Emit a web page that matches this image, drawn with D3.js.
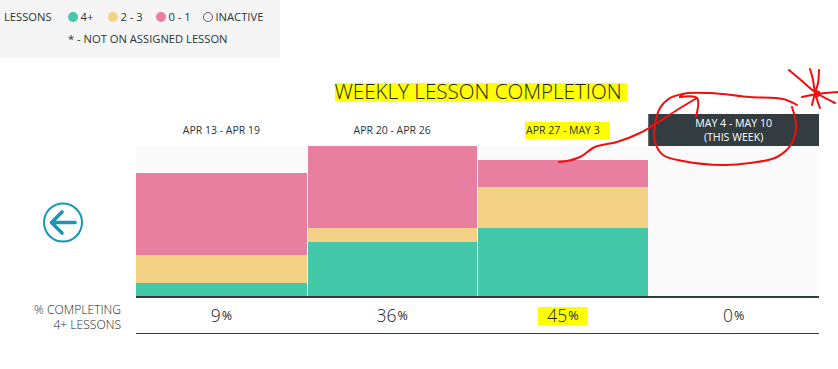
<!DOCTYPE html>
<html>
<head>
    <script src="https://cdnjs.cloudflare.com/ajax/libs/d3/7.8.5/d3.min.js"></script>
    <style>
        html, body { margin: 0; padding: 0; background: #fff; }
        svg { display: block; }
        text { font-family: "Open Sans", sans-serif; fill: #2b3438; }
    </style>
</head>
<body>
    <div id="chart"></div>
    <script>
        const width = 838, height = 369;

        const weeks = ["APR 13 - APR 19", "APR 20 - APR 26", "APR 27 - MAY 3", "MAY 4 - MAY 10"];
        const groups = ["fourPlus", "twoThree", "zeroOne"];
        const fourPlus = [13, 54, 68, 0];
        const twoThree = [28, 14, 41, 0];
        const zeroOne = [82, 82, 27, 0];
        const percents = [9, 36, 45, 0];
        const legendLabels = ["4+", "2 - 3", "0 - 1", "INACTIVE"];

        const colors = { fourPlus: "#43c8a9", twoThree: "#f4d285", zeroOne: "#e87ea0" };
        const dark = "#333c41";

        // hand drawn markup on the screenshot
        const arrowLine = [[559,162],[567,161],[580,157],[595,147],[617,142],[640,133],[657,123],[677,110],[697,98]];
        const arrowHead = [[680,97],[697,98],[696,117]];
        const loop = [[683,94],[670,98],[660,108],[655,125],[655,142],[663,155],[683,161],[723,165],[750,163],[777,157],[792,143],[796,125],[792,107]];
        const loopTop = [[680,97],[683,94],[710,93],[750,97],[783,99],[797,105]];
        const star = [
            [[789,70],[802,81],[815,92],[835,103]],
            [[810,69],[813,80],[815,93],[820,108]],
            [[819,70],[818,83],[815,93],[812,105]],
            [[802,97],[817,94],[838,92]],
            [[814,91],[819,92],[818,96],[814,96]]
        ];

        const svg = d3.select("#chart").append("svg").attr("width", width).attr("height", height);

        const x = d3.scaleBand().domain(weeks).range([136, 819]);
        const y = d3.scaleLinear().domain([0, 150]).range([296, 146]);

        // legend box
        svg.append("rect").attr("width", 280).attr("height", 58).attr("fill", "#f5f5f5");
        const legendText = (s, px, py) => svg.append("text").attr("x", px).attr("y", py)
            .attr("font-size", 11.2).text(s);
        legendText("LESSONS", 4, 21);
        legendText("* - NOT ON ASSIGNED LESSON", 68, 43);
        const legendDots = [73, 113, 161, 208];
        const legendFill = [colors.fourPlus, colors.twoThree, colors.zeroOne, "#fff"];
        legendLabels.forEach((l, i) => {
            svg.append("circle").attr("cx", legendDots[i]).attr("cy", 17).attr("r", i == 3 ? 4.5 : 5)
                .attr("fill", legendFill[i])
                .attr("stroke", i == 3 ? "#6b4a6b" : "none");
            legendText(l, legendDots[i] + 7.5, 21);
        });

        // title highlight then title
        svg.append("rect").attr("x", 335).attr("y", 83).attr("width", 292).attr("height", 18).attr("fill", "#ffff00");
        svg.append("text").attr("x", 478).attr("y", 98.5).attr("text-anchor", "middle")
            .attr("font-size", 20.6).attr("font-weight", 300).style("fill", "#1f2a1f").text("WEEKLY LESSON COMPLETION");

        // week backgrounds
        svg.append("rect").attr("x", 136).attr("y", 146).attr("width", 683).attr("height", 150).attr("fill", "#fafafa");

        // week headers
        svg.append("rect").attr("x", 525).attr("y", 122).attr("width", 85).attr("height", 17).attr("fill", "#ffff00");
        svg.append("rect").attr("x", x(weeks[3])).attr("y", 114).attr("width", x.bandwidth()).attr("height", 32).attr("fill", dark);
        weeks.forEach((w, i) => {
            const cx = x(w) + x.bandwidth() / 2;
            if (i < 3) {
                svg.append("text").attr("x", cx).attr("y", 134).attr("text-anchor", "middle")
                    .attr("font-size", 10.5).text(w);
            } else {
                svg.append("text").attr("x", cx).attr("y", 126.5).attr("text-anchor", "middle")
                    .attr("font-size", 10.6).attr("font-weight", 500).style("fill", "#fff").text(w);
                svg.append("text").attr("x", cx).attr("y", 141).attr("text-anchor", "middle")
                    .attr("font-size", 10.6).attr("font-weight", 500).style("fill", "#fff").text("(THIS WEEK)");
            }
        });

        // stacked bars, second column sits 1px inside its band to leave the white gaps
        const rows = weeks.map((w, i) => ({ week: w, fourPlus: fourPlus[i], twoThree: twoThree[i], zeroOne: zeroOne[i] }));
        const stack = d3.stack().keys(groups)(rows);
        const inset = d => d.data.week == weeks[1] ? 1 : 0;
        const left = d => Math.round(x(d.data.week)) + inset(d);
        const right = d => Math.round(x(d.data.week) + x.bandwidth()) - inset(d);
        svg.append("g").selectAll("g").data(stack).enter().append("g")
            .attr("fill", d => colors[d.key])
            .selectAll("rect").data(d => d).enter().append("rect")
            .attr("x", left)
            .attr("y", d => y(d[1]))
            .attr("width", d => right(d) - left(d))
            .attr("height", d => y(d[0]) - y(d[1]));

        // rules
        svg.append("line").attr("x1", 136).attr("x2", 819).attr("y1", 297).attr("y2", 297)
            .attr("stroke", dark).attr("stroke-width", 2);
        svg.append("line").attr("x1", 136).attr("x2", 819).attr("y1", 333.5).attr("y2", 333.5)
            .attr("stroke", dark).attr("stroke-width", 1);

        // percent row
        svg.append("rect").attr("x", 538).attr("y", 307).attr("width", 50).attr("height", 18).attr("fill", "#ffff00");
        percents.forEach((p, i) => {
            const t = svg.append("text").attr("x", x(weeks[i]) + x.bandwidth() / 2).attr("y", 321.5)
                .attr("text-anchor", "middle").attr("font-size", 17.5).attr("font-weight", 300).style("fill", "#1c2428").text(p);
            t.append("tspan").attr("dx", 1).attr("dy", -1.5).attr("font-size", 12.5).attr("font-weight", 400).text("%");
        });
        const rowLabel = svg.append("text").attr("text-anchor", "end").attr("font-size", 12.1).attr("font-weight", 300).style("fill", "#1c2428");
        rowLabel.append("tspan").attr("x", 121).attr("y", 313.5).text("% COMPLETING");
        rowLabel.append("tspan").attr("x", 121).attr("y", 328.5).text("4+ LESSONS");

        // back arrow
        const back = svg.append("g").attr("fill", "none").attr("stroke", "#1797b5").attr("stroke-linecap", "round");
        back.append("circle").attr("cx", 63).attr("cy", 222.5).attr("r", 19).attr("stroke-width", 2);
        back.append("path").attr("d", "M51.5,222.5H75M62,212L51.5,222.5L62,233").attr("stroke-width", 3.6).attr("stroke-linejoin", "round");

        // red markup
        const scribble = d3.line().curve(d3.curveCatmullRom);
        const red = svg.append("g").attr("fill", "none").attr("stroke", "#f40d0d").attr("stroke-width", 2).attr("stroke-linecap", "round");
        [arrowLine, arrowHead, loop, loopTop].concat(star).forEach(pts => {
            red.append("path").attr("d", scribble(pts));
        });
    </script>
</body>
</html>
